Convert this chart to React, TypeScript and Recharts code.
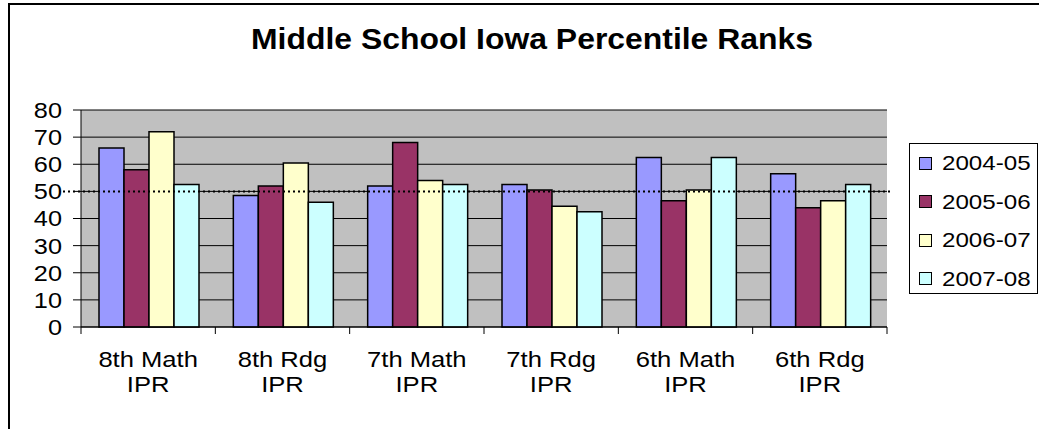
import React from "react";
import {
  BarChart,
  Bar,
  XAxis,
  YAxis,
  CartesianGrid,
  ReferenceLine,
} from "recharts";

const CATEGORIES = [
  "8th Math IPR",
  "8th Rdg IPR",
  "7th Math IPR",
  "7th Rdg IPR",
  "6th Math IPR",
  "6th Rdg IPR",
];
const SERIES_NAMES = ["2004-05", "2005-06", "2006-07", "2007-08"];
const S_2004_05 = [66, 48.5, 52, 52.5, 62.5, 56.5];
const S_2005_06 = [58, 52, 68, 50.5, 46.5, 44];
const S_2006_07 = [72, 60.5, 54, 44.5, 50.5, 46.5];
const S_2007_08 = [52.5, 46, 52.5, 42.5, 62.5, 52.5];
const Y_TICKS = [0, 10, 20, 30, 40, 50, 60, 70, 80];
const TARGET = 50;

const COLORS = ["#9999FF", "#993366", "#FFFFCC", "#CCFFFF"];
const FONT = "'Liberation Sans', Arial, sans-serif";
const STRETCH = 1.15;

const W = 1039;
const H = 429;
const MARGIN = { top: 110, right: 152, bottom: 42, left: 21 };
const Y_AXIS_W = 60;
const BAND = (W - MARGIN.left - Y_AXIS_W - MARGIN.right) / CATEGORIES.length;

const data = CATEGORIES.map((name, i) => ({
  name,
  a: S_2004_05[i],
  b: S_2005_06[i],
  c: S_2006_07[i],
  d: S_2007_08[i],
}));
const KEYS = ["a", "b", "c", "d"];

function YTick(props: any) {
  const { x, y, payload } = props;
  return (
    <g transform={`translate(${x},${y}) scale(${STRETCH},1)`}>
      <text x={0} y={0} dy="0.36em" textAnchor="end" fontSize={22} fontFamily={FONT} fill="#000">
        {payload.value}
      </text>
    </g>
  );
}

function XTick(props: any) {
  const { x, y, payload, index } = props;
  const label: string = payload.value;
  const cut = label.lastIndexOf(" ");
  const lines = [label.slice(0, cut), label.slice(cut + 1)];
  const left = x - BAND / 2;
  const right = x + BAND / 2;
  return (
    <g>
      <line x1={left} y1={y} x2={left} y2={y + 7} stroke="#000" strokeWidth={1} />
      {index === CATEGORIES.length - 1 && (
        <line x1={right} y1={y} x2={right} y2={y + 7} stroke="#000" strokeWidth={1} />
      )}
      {lines.map((t, i) => (
        <g key={i} transform={`translate(${x},${y + 40 + i * 25}) scale(1.19,1)`}>
          <text x={0} y={0} textAnchor="middle" fontSize={21.5} fontFamily={FONT} fill="#000">
            {t}
          </text>
        </g>
      ))}
    </g>
  );
}

function DottedLine(props: any) {
  const { x1, y1, x2, y2 } = props;
  return (
    <line
      x1={x1 - 18}
      y1={y1}
      x2={x2 + 6}
      y2={y2}
      stroke="#000"
      strokeWidth={2}
      strokeDasharray="2 3"
    />
  );
}

function LegendBox() {
  return (
    <div
      style={{
        position: "absolute",
        left: 909,
        top: 143,
        width: 129,
        height: 151,
        boxSizing: "border-box",
        border: "1px solid #000",
        background: "#fff",
        fontFamily: FONT,
      }}
    >
      {SERIES_NAMES.map((s, i) => (
        <div
          key={s}
          style={{
            position: "absolute",
            left: 9,
            top: 6 + i * 38.5,
            height: 26,
            display: "flex",
            alignItems: "center",
          }}
        >
          <span
            style={{
              width: 13,
              height: 13,
              boxSizing: "border-box",
              border: "1.5px solid #000",
              background: COLORS[i],
              marginRight: 10,
            }}
          />
          <span
            style={{
              fontSize: 21,
              lineHeight: "26px",
              display: "inline-block",
              transform: `scaleX(${STRETCH})`,
              transformOrigin: "left center",
            }}
          >
            {s}
          </span>
        </div>
      ))}
    </div>
  );
}

export default function App() {
  return (
    <div style={{ position: "absolute", left: 0, top: 0, width: W, height: H, background: "#fff" }}>
      <div
        style={{
          position: "absolute",
          left: 8,
          top: 3,
          width: W - 8,
          height: H - 3,
          boxSizing: "border-box",
          borderTop: "2px solid #000",
          borderLeft: "2px solid #000",
        }}
      />
      <div
        style={{
          position: "absolute",
          left: 0,
          top: 24,
          width: 1064,
          textAlign: "center",
          fontFamily: FONT,
          fontWeight: "bold",
          fontSize: 29,
          lineHeight: "30px",
          transform: "scaleX(1.1)",
          transformOrigin: "532px center",
        }}
      >
        Middle School Iowa Percentile Ranks
      </div>
      <div style={{ position: "absolute", left: 0, top: 0 }}>
        <BarChart
          width={W}
          height={H}
          data={data}
          margin={MARGIN}
          barCategoryGap="13.4%"
          barGap={0}
        >
          <CartesianGrid fill="#C0C0C0" stroke="#000" vertical={false} />
          <XAxis
            dataKey="name"
            height={60}
            axisLine={{ stroke: "#000" }}
            tickLine={false}
            tickSize={0}
            tickMargin={0}
            tick={<XTick />}
            interval={0}
          />
          <XAxis
            xAxisId="t"
            dataKey="name"
            orientation="top"
            height={0}
            tick={false}
            tickLine={false}
            axisLine={{ stroke: "#808080", strokeWidth: 2 }}
          />
          <YAxis
            width={Y_AXIS_W}
            domain={[0, 80]}
            ticks={Y_TICKS}
            interval={0}
            axisLine={{ stroke: "#000" }}
            tickLine={{ stroke: "#000" }}
            tickSize={8}
            tickMargin={11}
            tick={<YTick />}
          />
          <YAxis
            yAxisId="r"
            orientation="right"
            width={0}
            domain={[0, 80]}
            tick={false}
            tickLine={false}
            axisLine={{ stroke: "#808080", strokeWidth: 2 }}
          />
          {KEYS.map((k, i) => (
            <Bar
              key={k}
              dataKey={k}
              name={SERIES_NAMES[i]}
              fill={COLORS[i]}
              stroke="#000"
              strokeWidth={1.5}
              isAnimationActive={false}
            />
          ))}
          <ReferenceLine y={TARGET} shape={<DottedLine />} />
        </BarChart>
      </div>
      <LegendBox />
    </div>
  );
}
